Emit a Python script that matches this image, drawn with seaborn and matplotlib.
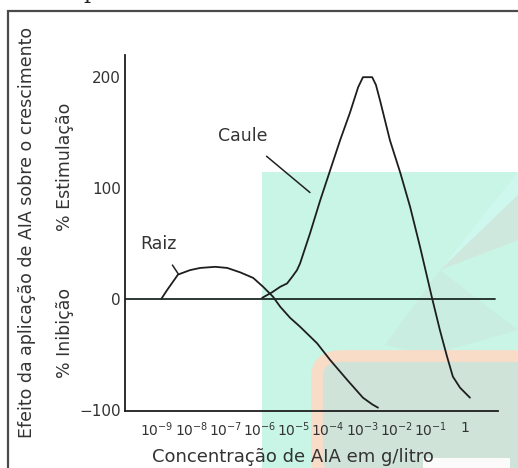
import numpy as np
import pandas as pd
import matplotlib
matplotlib.use('Agg')
import matplotlib.pyplot as plt
import seaborn as sns
from matplotlib.patches import Rectangle, Polygon, FancyBboxPatch

# exponents of the AIA concentration (g/litro) and growth effect (%)
raiz_exp = [-8.88, -8.71, -8.39, -8.04, -7.74, -7.30, -6.95, -6.57, -6.19,
            -5.90, -5.61, -5.40, -5.11, -4.82, -4.32, -3.94, -3.44, -2.98,
            -2.71, -2.54]
raiz_val = [0, 8, 22, 26, 28, 29, 28, 24, 19, 11, 2, -7, -17, -25, -40, -55,
            -73, -89, -95, -98]

caule_exp = [-5.93, -5.64, -5.40, -5.20, -5.05, -4.91, -4.82, -4.67, -4.53,
             -4.23, -3.94, -3.65, -3.36, -3.12, -2.98, -2.71, -2.60, -2.48,
             -2.19, -1.89, -1.60, -1.31, -0.96, -0.73, -0.52, -0.35, -0.14,
             0.15]
caule_val = [1, 6, 11, 14, 20, 26, 32, 46, 59, 89, 116, 143, 168, 191, 200,
             200, 193, 179, 143, 114, 83, 47, 1, -28, -52, -70, -80, -89]

tick_exp = [-9, -8, -7, -6, -5, -4, -3, -2, -1, 0]
tick_labels = [r'$10^{-9}$', r'$10^{-8}$', r'$10^{-7}$', r'$10^{-6}$', r'$10^{-5}$',
               r'$10^{-4}$', r'$10^{-3}$', r'$10^{-2}$', r'$10^{-1}$', '1']
y_ticks = [-100, 0, 100, 200]
y_tick_labels = ['\u2212100', '0', '100', '200']

df = pd.concat([
    pd.DataFrame({'conc': np.power(10.0, raiz_exp), 'efeito': raiz_val, 'orgao': 'Raiz'}),
    pd.DataFrame({'conc': np.power(10.0, caule_exp), 'efeito': caule_val, 'orgao': 'Caule'}),
])

sns.set_style('white')
plt.rcParams['font.family'] = ['DejaVu Sans']
plt.rcParams['mathtext.fontset'] = 'dejavusans'

W, H = 518, 468
fig = plt.figure(figsize=(W / 100, H / 100), dpi=100, facecolor='white')


def px(x, y):
    return (x / W, 1 - y / H)


# background decoration (teal panel, faint wedges, rounded orange frame)
bg = dict(transform=fig.transFigure, zorder=-5)
fig.patches.append(Rectangle(px(262, 468), (W - 262) / W, (468 - 172) / H,
                             fc='#c8f5e6', ec='none', **bg))
fig.patches.append(Polygon([px(518, 172), px(518, 195), px(440, 270)],
                           fc='#cef8ee', ec='none', **bg))
fig.patches.append(Polygon([px(440, 270), px(518, 195), px(518, 240)],
                           fc='#cfe8de', ec='none', **bg))
fig.patches.append(Polygon([px(440, 270), px(518, 330), px(430, 355), px(385, 345)],
                           fc='#c9eee1', ec='none', **bg))
fig.patches.append(FancyBboxPatch(px(317, 480), (W + 20 - 317) / W, (480 - 356) / H,
                                  boxstyle='round,pad=0,rounding_size=0.05',
                                  fc='#cfe3d8', ec='#f8dcc8', lw=8.5,
                                  mutation_aspect=H / W, **bg))
fig.patches.append(Rectangle(px(423, 468), (510 - 423) / W, 10 / H,
                             fc='#fbfbfb', ec='none', **bg))
# outer frame
fig.patches.append(Rectangle(px(8, 475), (W + 10) / W, (475 - 11) / H,
                             fc='none', ec='#4a4a4a', lw=1.6, transform=fig.transFigure,
                             zorder=-4))
fig.text(90 / W, 1 + 2 / H, 'p', family='DejaVu Serif', fontsize=16,
         va='baseline', ha='center', color='#222')

ax = fig.add_axes([125 / W, (H - 411) / H, 373 / W, 356 / H])
ax.set_facecolor('none')

sns.lineplot(data=df, x='conc', y='efeito', units='orgao', estimator=None,
             sort=False, color='#1e1e1e', lw=1.3, ax=ax, legend=False)
ax.axhline(0, xmin=0, xmax=(495 - 125) / 373, color='#1c2a24', lw=1.3)

ax.set_xscale('log')
ax.set_xlim(10 ** -9.94, 10 ** 0.97)
ax.set_ylim(-101, 220)
ax.set_xticks(np.power(10.0, tick_exp))
ax.set_xticklabels(tick_labels)
ax.minorticks_off()
ax.set_yticks(y_ticks)
ax.set_yticklabels(y_tick_labels)
ax.tick_params(axis='x', direction='in', length=4, width=1.2, pad=7,
               labelsize=10, labelcolor='#333', color='#222')
ax.tick_params(axis='y', length=0, pad=3, labelsize=11, labelcolor='#333')
for s in ['top', 'right']:
    ax.spines[s].set_visible(False)
for s in ['left', 'bottom']:
    ax.spines[s].set_color('#1e1e1e')
    ax.spines[s].set_linewidth(1.3)
ax.set_xlabel('')
ax.set_ylabel('')

# curve labels with pointer lines
ax.annotate('Raiz', xy=(10 ** -8.39, 23), xytext=(10 ** -8.97, 50),
            ha='center', va='center', fontsize=12.5, color='#333',
            arrowprops=dict(arrowstyle='-', color='#222', lw=1.1,
                            shrinkA=8, shrinkB=0))
ax.annotate('Caule', xy=(10 ** -4.53, 96), xytext=(10 ** -6.51, 147),
            ha='center', va='center', fontsize=12.5, color='#333',
            arrowprops=dict(arrowstyle='-', color='#222', lw=1.1,
                            shrinkA=9, shrinkB=0))

fig.text(293 / W, 1 - 457 / H, 'Concentração de AIA em g/litro',
         ha='center', va='center', fontsize=13, color='#333')
fig.text(27 / W, 1 - 232 / H, 'Efeito da aplicação de AIA sobre o crescimento',
         rotation=90, ha='center', va='center', fontsize=12.5, color='#333')
fig.text(65 / W, 1 - 167 / H, '% Estimulação', rotation=90,
         ha='center', va='center', fontsize=12.5, color='#333')
fig.text(65 / W, 1 - 333 / H, '% Inibição', rotation=90,
         ha='center', va='center', fontsize=12.5, color='#333')

fig.savefig('out.png', dpi=100, facecolor='white')
